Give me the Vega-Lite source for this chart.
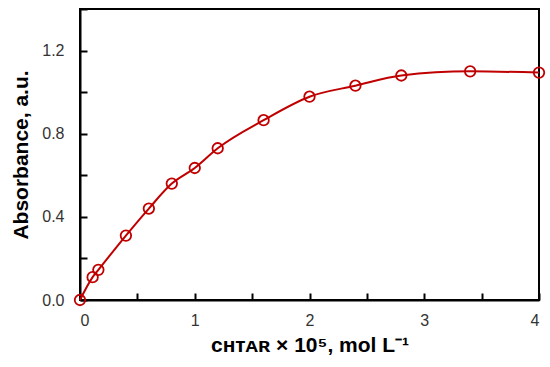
{
  "$schema": "https://vega.github.io/schema/vega-lite/v6.json",
  "padding": {"left": 10, "top": 8, "right": 4, "bottom": 8},
  "width": 459,
  "height": 291,
  "config": {
    "view": {"stroke": "black", "strokeWidth": 2}
  },
  "data": {
    "values": [
      {"c": 0.0, "A": 0.0},
      {"c": 0.11, "A": 0.11},
      {"c": 0.16, "A": 0.145},
      {"c": 0.4, "A": 0.31},
      {"c": 0.6, "A": 0.44},
      {"c": 0.8, "A": 0.56},
      {"c": 1.0, "A": 0.635},
      {"c": 1.2, "A": 0.73},
      {"c": 1.6, "A": 0.865},
      {"c": 2.0, "A": 0.978},
      {"c": 2.4, "A": 1.031},
      {"c": 2.8, "A": 1.08},
      {"c": 3.4, "A": 1.10},
      {"c": 4.0, "A": 1.094}
    ]
  },
  "mark": {
    "type": "line",
    "interpolate": "monotone",
    "color": "#C00000",
    "strokeWidth": 2,
    "point": {"filled": false, "stroke": "#C00000", "size": 110, "strokeWidth": 1.8, "opacity": 1}
  },
  "encoding": {
    "x": {
      "field": "c",
      "type": "quantitative",
      "scale": {"domain": [0, 4]},
      "axis": {
        "tickCount": 8,
        "labelExpr": "datum.value % 1 === 0 ? format(datum.value, 'd') : ''",
        "tickSize": -7,
        "tickColor": "black",
        "tickWidth": 2,
        "domainColor": "black",
        "domainWidth": 2,
        "grid": false,
        "labelFont": "Liberation Sans",
        "labelFontSize": 16,
        "labelColor": "#333333",
        "labelPadding": 19,
        "title": "cʜᴛᴀʀ × 10⁵, mol L⁻¹",
        "titleFont": "Liberation Sans",
        "titleFontSize": 21,
        "titleFontWeight": "bold",
        "titleColor": "black",
        "titlePadding": 6
      }
    },
    "y": {
      "field": "A",
      "type": "quantitative",
      "scale": {"domain": [0, 1.4]},
      "axis": {
        "tickCount": 7,
        "labelExpr": "round(datum.value * 10) % 4 === 0 ? format(datum.value, '.1f') : ''",
        "tickSize": -7,
        "tickColor": "black",
        "tickWidth": 2,
        "domainColor": "black",
        "domainWidth": 2,
        "grid": false,
        "labelFont": "Liberation Sans",
        "labelFontSize": 16,
        "labelColor": "#333333",
        "labelPadding": 23,
        "title": "Absorbance, a.u.",
        "titleFont": "Liberation Sans",
        "titleFontSize": 21,
        "titleFontWeight": "bold",
        "titleColor": "black",
        "titlePadding": 10
      }
    }
  }
}
